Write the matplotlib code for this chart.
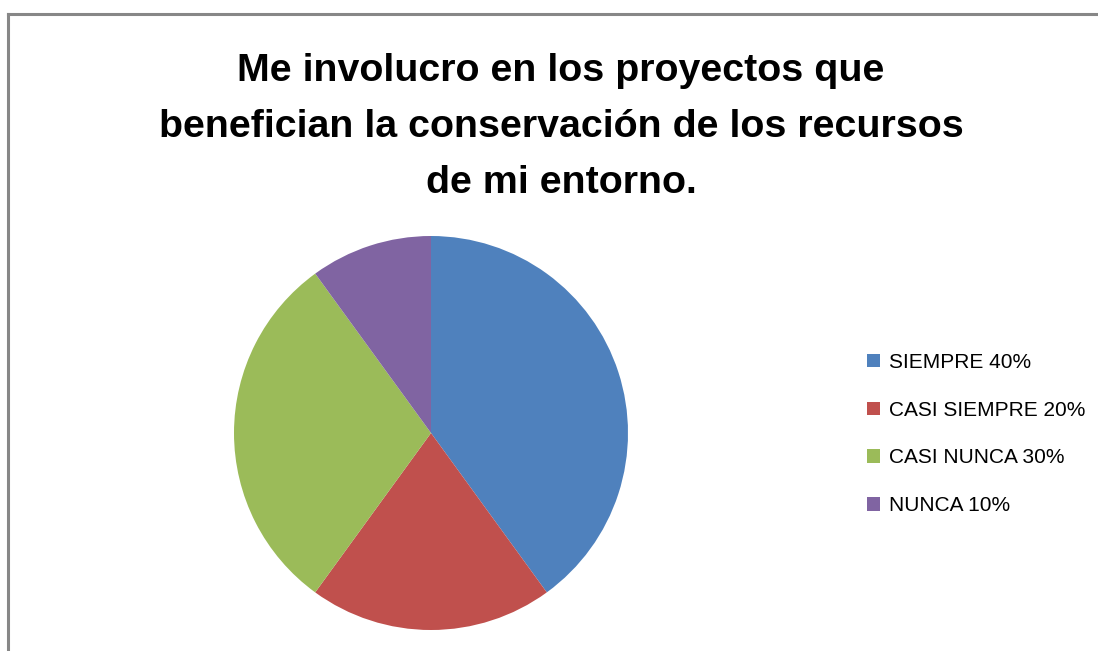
import matplotlib.pyplot as plt
from matplotlib.lines import Line2D

# data
labels = ['SIEMPRE 40%', 'CASI SIEMPRE 20%', 'CASI NUNCA 30%', 'NUNCA 10%']
values = [40, 20, 30, 10]
colors = ['#4F81BD', '#C0504D', '#9BBB59', '#8064A2']
title = 'Me involucro en los proyectos que\nbenefician la conservación de los recursos\nde mi entorno.'

W, H = 1098, 651
fig = plt.figure(figsize=(W / 100, H / 100), dpi=100)

# chart border (only top and left visible in the reference)
fig.add_artist(Line2D([7.5 / W, 1.0], [1 - 13.5 / H] * 2, transform=fig.transFigure,
                      color='#878787', lw=2.2))
fig.add_artist(Line2D([7.5 / W] * 2, [1 - 13.5 / H, 0], transform=fig.transFigure,
                      color='#878787', lw=2.2))

# pie axes: centre (431, 433) px, radius 197 px
cx, cy, r = 431, 433, 197
ax = fig.add_axes([(cx - r) / W, 1 - (cy + r) / H, 2 * r / W, 2 * r / H])
wedges, _ = ax.pie(values, colors=colors, startangle=90, counterclock=False,
                   wedgeprops=dict(edgecolor='none'))
ax.set_xlim(-1, 1)
ax.set_ylim(-1, 1)
ax.set_aspect('auto')
ax.axis('off')

fig.text(561 / W, 1 - 127 / H, title, ha='center', va='center', fontsize=28.4,
         fontweight='bold', family='Liberation Sans', linespacing=1.70)

fig.legend(wedges, labels, loc='center left', bbox_to_anchor=(848 / W, 1 - 434 / H),
           frameon=False, prop=dict(family='Liberation Sans', size=15),
           handlelength=0.62, handleheight=0.62, handletextpad=0.45, labelspacing=1.38)

fig.savefig('out.png', dpi=100)
